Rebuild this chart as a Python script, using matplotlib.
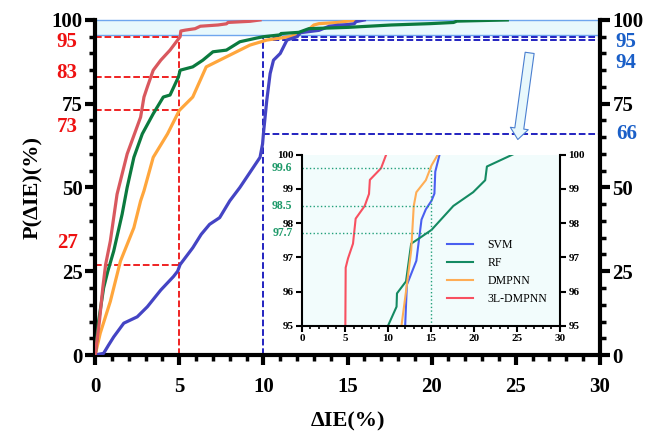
import matplotlib
matplotlib.use("Agg")
import matplotlib.pyplot as plt
from matplotlib.patches import Rectangle, FancyArrowPatch
from matplotlib.ticker import MultipleLocator

plt.rcParams['font.family'] = ['Liberation Serif', 'DejaVu Serif']
plt.rcParams['font.weight'] = 'bold'

# cumulative probability (%) vs absolute error dIE (%)
svm_x = [0, 0.5, 0.8, 1.1, 1.7, 2.5, 3.1, 3.9, 4.65, 4.9, 5.05, 5.8, 6.3, 6.8, 7.4, 8.0,
         8.6, 9.4, 9.8, 9.95, 10.0, 10.2, 10.4, 10.6, 11.0, 11.2, 11.4, 12.0, 12.2, 13.3,
         13.9, 14.4, 15.06, 15.4, 15.5, 16.0]
svm_p = [0, 0.5, 3, 5.4, 9.5, 11.4, 14.4, 19.4, 23.4, 25, 27, 32, 36, 39, 41, 46,
         50, 56, 59, 63, 66, 76, 84, 88, 90, 92, 94, 95, 96.2, 96.9,
         98.1, 98.4, 98.65, 98.86, 99.5, 100]

rf_x = [0, 0.2, 0.5, 0.75, 1.1, 1.6, 1.9, 2.3, 2.8, 3.45, 4.05, 4.45, 4.95, 5.05, 5.8,
        6.4, 7.0, 7.8, 8.6, 9.6, 10.0, 11.0, 11.05, 12.1, 12.7, 13.6, 15.06, 17.6, 19.9,
        21.3, 21.5, 24.5]
rf_p = [0, 10, 20, 25, 31, 42, 50, 59, 66, 72, 77, 77.6, 83, 85, 86,
        88, 90.5, 91, 93.5, 94.6, 95, 95.56, 95.95, 96.3, 97.4, 97.55, 97.8, 98.5, 98.9,
        99.25, 99.65, 100]

dmpnn_x = [0, 0.3, 0.9, 1.5, 2.3, 2.7, 2.9, 3.45, 4.3, 5.0, 5.8, 6.6, 7.8, 9.2, 10.2,
           11.57, 12.2, 12.7, 13.0, 13.3, 14.4, 15.06, 15.8]
dmpnn_p = [0, 6.5, 16, 28, 38, 46, 49, 59, 66, 73, 77, 86, 89, 92.5, 94,
           95, 96.2, 97.2, 98.5, 98.9, 99.25, 99.68, 100]

l3_x = [0, 0.25, 0.45, 0.62, 0.9, 1.3, 1.9, 2.7, 2.9, 3.1, 3.45, 3.9, 4.45, 4.75, 5.05,
        5.09, 5.36, 5.94, 6.25, 7.3, 7.8, 7.9, 9.2, 9.8]
l3_p = [0, 10, 20, 27, 34, 48, 60, 71, 77, 80, 85, 88, 91, 93, 95,
        96.7, 96.97, 97.4, 98.13, 98.5, 98.85, 99.26, 99.6, 100]

red_marks = [95, 83, 73, 27]
red_label_pos = [93.4, 84.2, 68.0, 33.4]
blue_marks = [95, 94, 66]
blue_label_pos = [93.4, 87.2, 66.0]
inset_marks = [99.6, 98.5, 97.7]

fig = plt.figure(figsize=(6.52, 4.34), dpi=100)
ax = fig.add_axes([0.146, 0.182, 0.774, 0.772])

ax.add_patch(Rectangle((0, 95.5), 30, 4.5, facecolor='#e8f8fc', edgecolor='#6fa6ee',
                       lw=1, zorder=1, clip_on=False))

ax.plot(dmpnn_x, dmpnn_p, color='#ffa63c', lw=2.3, zorder=3)
ax.plot(rf_x, rf_p, color='#0b7a3e', lw=2.3, zorder=4)
ax.plot(l3_x, l3_p, color='#d9585e', lw=2.3, zorder=5)
ax.plot(svm_x, svm_p, color='#4444c4', lw=2.3, zorder=3)

# red guide lines at dIE = 5
for v in red_marks:
    ax.plot([0, 5], [v, v], ls='--', color='#ee1111', lw=1.3, zorder=2)
ax.plot([5, 5], [0, 95], ls='--', color='#ee1111', lw=1.3, zorder=2)
# blue guide lines at dIE = 10
for v in blue_marks:
    ax.plot([10, 30], [v, v], ls='--', color='#1111bb', lw=1.3, zorder=2)
ax.plot([10, 10], [0, 95], ls='--', color='#1111bb', lw=1.3, zorder=2)

for v, y in zip(red_marks, red_label_pos):
    ax.text(-1.05, y, str(v), color='#ee1111', fontsize=15, fontweight='bold',
            ha='right', va='center')
for v, y in zip(blue_marks, blue_label_pos):
    ax.text(30.95, y, str(v), color='#1a5fc8', fontsize=15, fontweight='bold',
            ha='left', va='center')

ax.set_xlim(0, 30)
ax.set_ylim(0, 100)
ax.xaxis.set_major_locator(MultipleLocator(5))
ax.xaxis.set_minor_locator(MultipleLocator(1))
ax.yaxis.set_major_locator(MultipleLocator(25))
ax.yaxis.set_minor_locator(MultipleLocator(5))
ax.tick_params(which='major', direction='out', length=7, width=3, labelsize=15, pad=2)
ax.tick_params(axis='x', which='major', pad=9)
ax.tick_params(which='minor', direction='out', length=4.5, width=2.5)
ax.tick_params(axis='y', which='both', right=True, labelright=True)
ax.spines['top'].set_visible(False)
for s in ['left', 'right', 'bottom']:
    ax.spines[s].set_linewidth(3)
ax.set_xlabel('ΔIE(%)', fontsize=16, fontweight='bold', labelpad=10)
ax.set_ylabel('P(ΔIE)(%)', fontsize=16, fontweight='bold', labelpad=6)

arrow = FancyArrowPatch((25.85, 91), (25.1, 63.5),
                        arrowstyle='simple,head_width=13,head_length=8,tail_width=6.5',
                        mutation_scale=1, facecolor='#e8f8fc', edgecolor='#4a7fd0',
                        lw=0.8, zorder=6)
ax.add_patch(arrow)

# inset zoom of the 95-100 % region
ins = fig.add_axes([0.463, 0.249, 0.396, 0.395])
ins.set_facecolor('#f2fcfc')
ins.plot(svm_x, svm_p, color='#4a5ff0', lw=1.5, label='SVM')
ins.plot(rf_x, rf_p, color='#148a62', lw=1.5, label='RF')
ins.plot(dmpnn_x, dmpnn_p, color='#ffad55', lw=1.5, label='DMPNN')
ins.plot(l3_x, l3_p, color='#f85060', lw=1.5, label='3L-DMPNN')
for v in inset_marks:
    ins.plot([0, 15], [v, v], ls=':', color='#22a07a', lw=1)
ins.plot([15, 15], [95, 99.6], ls=':', color='#22a07a', lw=1)
for v in inset_marks:
    ins.text(-1.1, v, str(v), color='#1f9a6a', fontsize=8.5, fontweight='bold',
             ha='right', va='center')
ins.set_xlim(0, 30)
ins.set_ylim(95, 100)
ins.xaxis.set_major_locator(MultipleLocator(5))
ins.xaxis.set_minor_locator(MultipleLocator(1))
ins.yaxis.set_major_locator(MultipleLocator(1))
ins.tick_params(which='major', direction='out', length=4, width=1.5, labelsize=8, pad=2)
ins.tick_params(which='minor', direction='out', length=2.5, width=1.2)
ins.tick_params(axis='y', right=True, labelright=True)
ins.spines['top'].set_visible(False)
for s in ['left', 'right', 'bottom']:
    ins.spines[s].set_linewidth(1.5)
leg = ins.legend(loc='lower right', frameon=False, handlelength=2.2,
                 handletextpad=1.2, bbox_to_anchor=(0.99, 0.06),
                 prop={'weight': 'normal', 'size': 8.5})

fig.savefig('out.png', dpi=100)
